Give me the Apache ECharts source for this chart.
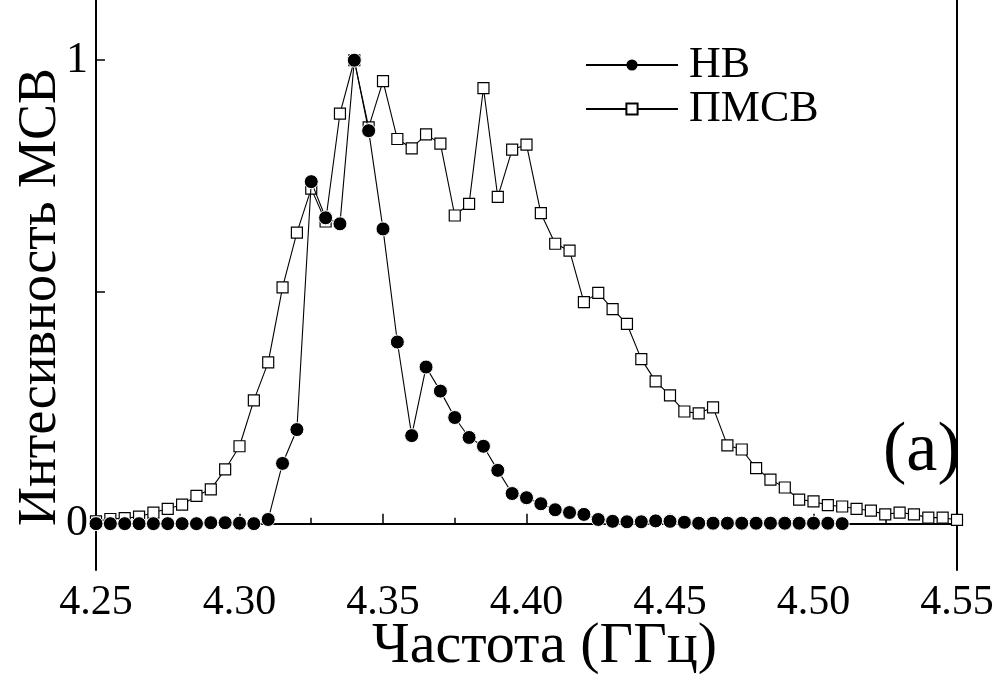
<!DOCTYPE html>
<html>
<head>
<meta charset="utf-8">
<script src="https://cdn.jsdelivr.net/npm/echarts@6/dist/echarts.min.js"></script>
<style>
html,body{margin:0;padding:0;background:#fff;}
#chart{width:997px;height:682px;}
</style>
</head>
<body>
<div id="chart"></div>
<script>
// Frequencies (GHz)
const freqHB = [4.25,4.255,4.26,4.265,4.27,4.275,4.28,4.285,4.29,4.295,4.30,4.305,4.31,4.315,4.32,4.325,4.33,4.335,4.34,4.345,4.35,4.355,4.36,4.365,4.37,4.375,4.38,4.385,4.39,4.395,4.40,4.405,4.41,4.415,4.42,4.425,4.43,4.435,4.44,4.445,4.45,4.455,4.46,4.465,4.47,4.475,4.48,4.485,4.49,4.495,4.50,4.505,4.51];
const valHB = [0,0,0,0,0,0,0,0,0.002,0.002,0.001,0,0.009,0.13,0.203,0.738,0.66,0.647,1.0,0.848,0.636,0.392,0.19,0.338,0.286,0.229,0.186,0.167,0.115,0.065,0.056,0.043,0.03,0.024,0.02,0.009,0.005,0.004,0.004,0.006,0.005,0.003,0.001,0.001,0.001,0.001,0.001,0.001,0.001,0.001,0.001,0.001,0];
const freqPMSV = [4.25,4.255,4.26,4.265,4.27,4.275,4.28,4.285,4.29,4.295,4.30,4.305,4.31,4.315,4.32,4.325,4.33,4.335,4.34,4.345,4.35,4.355,4.36,4.365,4.37,4.375,4.38,4.385,4.39,4.395,4.40,4.405,4.41,4.415,4.42,4.425,4.43,4.435,4.44,4.445,4.45,4.455,4.46,4.465,4.47,4.475,4.48,4.485,4.49,4.495,4.50,4.505,4.51,4.515,4.52,4.525,4.53,4.535,4.54,4.545,4.55];
const valPMSV = [0.005,0.01,0.012,0.015,0.024,0.032,0.041,0.06,0.074,0.117,0.167,0.266,0.348,0.51,0.628,0.723,0.652,0.885,1.0,0.855,0.955,0.83,0.81,0.84,0.82,0.665,0.69,0.94,0.705,0.807,0.818,0.67,0.604,0.589,0.478,0.498,0.463,0.431,0.355,0.307,0.277,0.242,0.238,0.251,0.169,0.16,0.12,0.095,0.078,0.052,0.048,0.04,0.037,0.032,0.028,0.02,0.024,0.02,0.013,0.013,0.008];
const seriesNames = ['НВ','ПМСВ'];
const xTitle = 'Частота (ГГц)';
const yTitle = 'Интесивность МСВ';
const panelLabel = '(a)';
const yTickValues = [0, 0.5, 1];
const yLabelValues = [0, 1];

const FONT = '"Liberation Serif","Times New Roman",serif';
const zip = (xs, ys) => xs.map((x, i) => [x, ys[i]]);

const chart = echarts.init(document.getElementById('chart'));
chart.setOption({
  animation: false,
  backgroundColor: '#fff',
  title: {
    text: panelLabel, left: 878, top: 412,
    textStyle: {fontFamily: FONT, fontSize: 70, fontWeight: 'normal', color: '#000'}
  },
  legend: {
    orient: 'vertical', left: 585, top: 43, padding: 0,
    itemWidth: 92, itemHeight: 14, itemGap: 0,
    data: [{name: seriesNames[0], itemStyle: {borderWidth: 0}}, {name: seriesNames[1]}],
    textStyle: {fontFamily: FONT, fontSize: 44, color: '#000', lineHeight: 38, padding: [0,0,0,6]}
  },
  grid: {left: 96, right: 40, top: 0, bottom: 112, outerBoundsMode: 'none', containLabel: false},
  xAxis: {
    type: 'value', min: 4.25, max: 4.55, interval: 0.05,
    name: xTitle, nameLocation: 'middle', nameGap: 48, nameMoveOverlap: false,
    nameTextStyle: {fontFamily: FONT, fontSize: 58, color: '#000', padding: [0,0,0,36], verticalAlign: 'top'},
    axisLine: {lineStyle: {color: '#000', width: 2}},
    axisTick: {inside: true, length: 10, lineStyle: {color: '#000', width: 1.5}},
    minorTick: {show: true, splitNumber: 2, length: 6, lineStyle: {color: '#000', width: 1.5}},
    splitLine: {show: false},
    axisLabel: {fontFamily: FONT, fontSize: 42, color: '#000', margin: 12,
      formatter: v => v.toFixed(2)}
  },
  yAxis: [{
    type: 'value', min: -0.1, max: 1.13, position: 'left',
    name: yTitle, nameLocation: 'middle', nameGap: 28, nameRotate: 90, nameMoveOverlap: false,
    nameTextStyle: {fontFamily: FONT, fontSize: 54, color: '#000', padding: [0,0,0,-24]},
    axisLine: {show: true, lineStyle: {color: '#000', width: 2}},
    axisTick: {show: true, inside: true, length: 9, customValues: yTickValues, lineStyle: {color: '#000', width: 1.5}},
    axisLabel: {fontFamily: FONT, fontSize: 44, color: '#000', margin: 8, customValues: yLabelValues},
    splitLine: {show: false}
  }, {
    type: 'value', min: -0.1, max: 1.13, position: 'right',
    axisLine: {show: true, lineStyle: {color: '#000', width: 2}},
    axisTick: {show: false}, axisLabel: {show: false}, splitLine: {show: false}
  }],
  series: [{
    name: seriesNames[1], type: 'line', data: zip(freqPMSV, valPMSV),
    symbol: 'rect', symbolSize: 11, clip: false,
    lineStyle: {color: '#000', width: 1.1},
    itemStyle: {color: '#fff', borderColor: '#000', borderWidth: 1.2},
    z: 2
  }, {
    name: seriesNames[0], type: 'line', data: zip(freqHB, valHB),
    symbol: 'circle', symbolSize: 14, clip: false,
    lineStyle: {color: '#000', width: 1.1},
    itemStyle: {color: '#000', borderColor: '#fff', borderWidth: 1},
    z: 3
  }]
});
</script>
</body>
</html>
